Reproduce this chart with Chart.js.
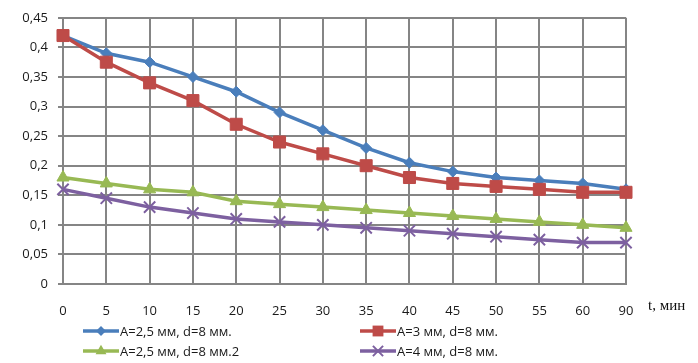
<!DOCTYPE html>
<html><head><meta charset="utf-8">
<script src="https://cdn.jsdelivr.net/npm/chart.js@4/dist/chart.umd.min.js"></script>
<style>html,body{margin:0;padding:0;background:#fff}#wrap{position:relative;width:698px;height:363px}</style>
</head><body><div id="wrap"><canvas id="c" width="698" height="363"></canvas></div>
<script>
const categories = ['0','5','10','15','20','25','30','35','40','45','50','55','60','90'];
const seriesA25 = [0.42,0.39,0.375,0.35,0.325,0.29,0.26,0.23,0.205,0.19,0.18,0.175,0.17,0.16];
const seriesA3 = [0.42,0.375,0.34,0.31,0.27,0.24,0.22,0.2,0.18,0.17,0.165,0.16,0.155,0.155];
const seriesA25b = [0.18,0.17,0.16,0.155,0.14,0.135,0.13,0.125,0.12,0.115,0.11,0.105,0.1,0.095];
const seriesA4 = [0.16,0.145,0.13,0.12,0.11,0.105,0.1,0.095,0.09,0.085,0.08,0.075,0.07,0.07];
const seriesNames = ['A=2,5 мм, d=8 мм.','A=3 мм, d=8 мм.','A=2,5 мм, d=8 мм.2','A=4 мм, d=8 мм.'];
const xTitle = 't, мин';
const yMin = 0, yMax = 0.45, yStep = 0.05;

const colors = ['#4A7EBB','#BE4B48','#98B954','#7D60A0'];
const styles = ['rectRot','rect','triangle','crossRot'];
const radii = [5.5,8.5,7,8];

function drawMarker(ctx, style, x, y, r, color){
  ctx.save();
  ctx.fillStyle = color; ctx.strokeStyle = color; ctx.lineWidth = 2;
  ctx.beginPath();
  if(style==='rectRot'){ctx.moveTo(x,y-r);ctx.lineTo(x+r,y);ctx.lineTo(x,y+r);ctx.lineTo(x-r,y);ctx.closePath();ctx.fill();}
  else if(style==='rect'){const s=r*Math.SQRT1_2;ctx.rect(x-s,y-s,2*s,2*s);ctx.fill();}
  else if(style==='triangle'){ctx.moveTo(x,y-r);ctx.lineTo(x+r*0.866,y+r*0.5);ctx.lineTo(x-r*0.866,y+r*0.5);ctx.closePath();ctx.fill();}
  else {const d=r*Math.SQRT1_2;ctx.moveTo(x-d,y-d);ctx.lineTo(x+d,y+d);ctx.moveTo(x+d,y-d);ctx.lineTo(x-d,y+d);ctx.stroke();}
  ctx.restore();
}

const legendPlugin = {
  id:'customLegend',
  afterDraw(chart){
    const ctx = chart.ctx;
    const pos = [[83,331],[360,331],[83,351],[360,351]];
    ctx.save();
    seriesNames.forEach((name,i)=>{
      const [x,y] = pos[i];
      ctx.strokeStyle = colors[i]; ctx.lineWidth = 3.5;
      ctx.beginPath(); ctx.moveTo(x,y); ctx.lineTo(x+36,y); ctx.stroke();
      drawMarker(ctx, styles[i], x+18, y, radii[i]*0.9, colors[i]);
      ctx.fillStyle = '#1a1a1a'; ctx.font = '13px "Open Sans"'; ctx.textBaseline='middle'; ctx.textAlign='left';
      ctx.fillText(name, x+37, y+1);
    });
    ctx.font = '15px "Liberation Serif"'; ctx.fillStyle='#111'; ctx.textAlign='left'; ctx.textBaseline='middle';
    ctx.fillText(xTitle, 648, 306);
    ctx.restore();
  }
};

const data = [seriesA25, seriesA3, seriesA25b, seriesA4];
new Chart(document.getElementById('c'), {
  type:'line',
  data:{
    labels:categories,
    datasets: data.map((d,i)=>({
      label: seriesNames[i], data: d,
      borderColor: colors[i], backgroundColor: colors[i],
      borderWidth: 3.5, pointStyle: styles[i], pointRadius: radii[i],
      pointBorderWidth: i===3?2:1, pointBackgroundColor: colors[i], pointBorderColor: colors[i],
      tension: 0, fill:false, order: [3,1,2,0][i]
    }))
  },
  options:{
    responsive:false, animation:false,
    layout:{padding:{left:0,top:14,right:72,bottom:0}},
    plugins:{legend:{display:false}, tooltip:{enabled:false}},
    scales:{
      x:{
        offset:false,
        grid:{color:'#858585', lineWidth:2, drawTicks:false},
        border:{color:'#858585', width:2},
        ticks:{font:{family:'Open Sans',size:13}, color:'#1a1a1a', padding:19, maxRotation:0, autoSkip:false},
        afterFit(s){s.height = 79;}
      },
      y:{
        min:yMin, max:yMax,
        grid:{color:'#858585', lineWidth:2, tickLength:5},
        border:{color:'#858585', width:2},
        ticks:{stepSize:yStep, font:{family:'Open Sans',size:13}, color:'#1a1a1a', padding:10,
          callback:(v)=>String(Math.round(v*100)/100).replace('.',',')},
        afterFit(s){s.width = 63;}
      }
    }
  },
  plugins:[legendPlugin]
});
</script></body></html>
